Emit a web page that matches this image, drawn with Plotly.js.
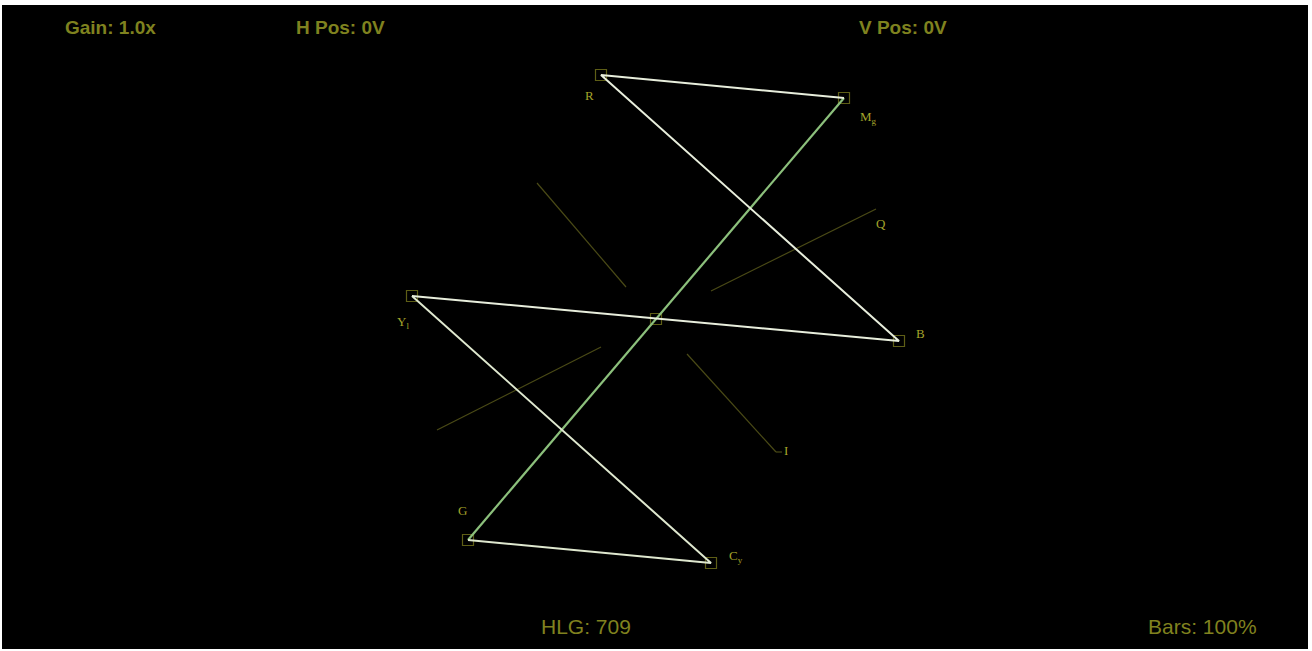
<!DOCTYPE html>
<html>
<head>
<meta charset="utf-8">
<script src="https://cdn.plot.ly/plotly-3.0.1.min.js"></script>
<style>html,body{margin:0;padding:0;background:#fff;}#chart{width:1312px;height:651px;}</style>
</head>
<body>
<div id="chart"></div>
<script>
// Vector targets (horizontal = B-Y, vertical = R-Y), read in screen-pixel units from centre
const targets = ["R", "Mg", "B", "Cy", "G", "Yl"];
const targetLabels = ["R", "M<sub>g</sub>", "B", "C<sub>y</sub>", "G", "Y<sub>l</sub>"];
const vecX = [-55, 188, 243, 55, -188, -244];
const vecY = [244, 221, -22, -244, -221, 23];

// Trace path of the colour-bar signal (by target name)
const tracePath = ["Yl", "Cy", "G"];
const tracePath2 = ["Mg", "R", "B", "Yl"];
const greenPath = ["G", "Mg"];

// I / Q graticule axis segments
const qUpperX = [55, 220], qUpperY = [28, 110];
const qLowerX = [-55, -219], qLowerY = [-28, -111];
const iUpperX = [-119, -30], iUpperY = [136, 32];
const iLowerX = [31, 120], iLowerY = [-35, -133];

// Readout texts
const readouts = ["Gain: 1.0x", "H Pos: 0V", "V Pos: 0V", "HLG: 709", "Bars: 100%"];

const idx = n => targets.indexOf(n);
const px = path => path.map(n => vecX[idx(n)]);
const py = path => path.map(n => vecY[idx(n)]);

const grat = '#4a4a16';
const traces = [
  {x: qUpperX, y: qUpperY, mode: 'lines', line: {color: grat, width: 1.2}, hoverinfo: 'skip'},
  {x: qLowerX, y: qLowerY, mode: 'lines', line: {color: grat, width: 1.2}, hoverinfo: 'skip'},
  {x: iUpperX, y: iUpperY, mode: 'lines', line: {color: grat, width: 1.2}, hoverinfo: 'skip'},
  {x: iLowerX, y: iLowerY, mode: 'lines', line: {color: grat, width: 1.2}, hoverinfo: 'skip'},
  {x: [iLowerX[1], iLowerX[1] + 6], y: [iLowerY[1], iLowerY[1]], mode: 'lines', line: {color: grat, width: 1.2}, hoverinfo: 'skip'},
  {x: vecX.concat([0]), y: vecY.concat([0]), mode: 'markers',
   marker: {symbol: 'square-open', size: 11, color: '#5e5e16', line: {width: 1.2}}, hoverinfo: 'skip'},
  {x: px(greenPath), y: py(greenPath), mode: 'lines', line: {color: '#8cc07c', width: 2.2}, hoverinfo: 'skip'},
  {x: px(tracePath), y: py(tracePath), mode: 'lines', line: {color: '#dfe8cf', width: 2}, hoverinfo: 'skip'},
  {x: px(tracePath2), y: py(tracePath2), mode: 'lines', line: {color: '#e8eedc', width: 2}, hoverinfo: 'skip'}
];

const labelShift = {R: [-12, -20], Mg: [24, -19], B: [21, 8], Cy: [25, 7], G: [-6, 30], Yl: [-9, -26]};
const labFont = {family: 'Liberation Serif, DejaVu Serif, serif', size: 13, color: '#a3a32a'};
const ann = targets.map((t, i) => ({
  x: vecX[i], y: vecY[i], text: targetLabels[i], showarrow: false,
  xshift: labelShift[t][0], yshift: labelShift[t][1], font: labFont
}));
ann.push({x: qUpperX[1], y: qUpperY[1], text: 'Q', showarrow: false, xshift: 5, yshift: -14, font: labFont});
ann.push({x: iLowerX[1], y: iLowerY[1], text: 'I', showarrow: false, xshift: 10, yshift: 2, font: labFont});

const roTop = {family: 'Liberation Sans, Arial, sans-serif', size: 19, color: '#7f821f', weight: 'bold'};
const roBot = {family: 'Liberation Sans Narrow, Liberation Sans, Arial, sans-serif', size: 21, color: '#80821f'};
const roPos = [[110, 28], [340, 28], [903, 28], [586, 626], [1202, 626]];
readouts.forEach((t, i) => ann.push({
  xref: 'paper', yref: 'paper',
  x: (roPos[i][0] - 2) / 1306, y: 1 - (roPos[i][1] - 5) / 644,
  text: t, showarrow: false, xanchor: 'center', yanchor: 'middle', font: i < 3 ? roTop : roBot
}));

const layout = {
  width: 1312, height: 651,
  margin: {l: 2, r: 4, t: 5, b: 2},
  paper_bgcolor: '#ffffff', plot_bgcolor: '#000000',
  showlegend: false,
  xaxis: {range: [-654, 652], visible: false, fixedrange: true},
  yaxis: {range: [-330, 314], visible: false, fixedrange: true},
  annotations: ann
};
Plotly.newPlot('chart', traces, layout, {displayModeBar: false, staticPlot: true});
</script>
</body>
</html>
